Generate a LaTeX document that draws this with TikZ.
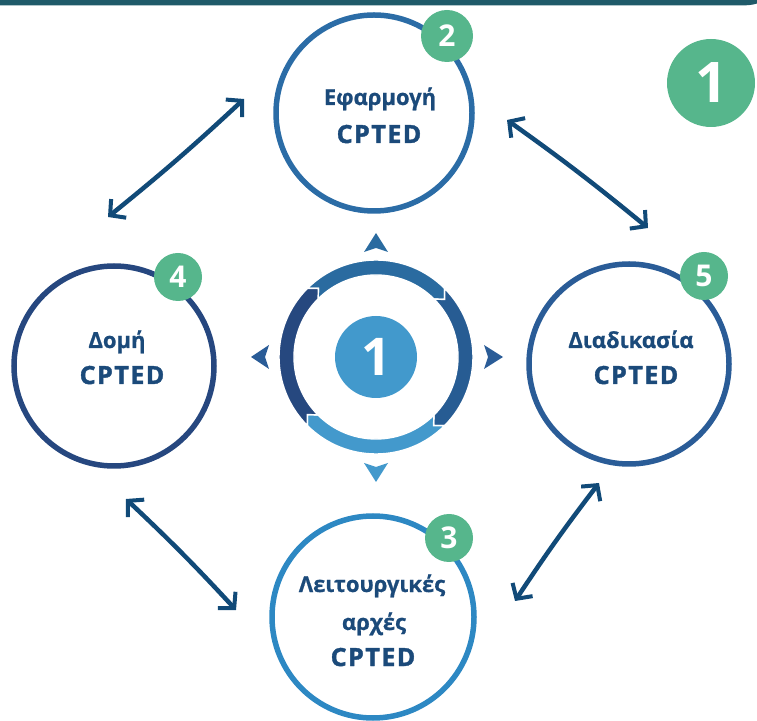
\documentclass[tikz,border=0pt]{standalone}
\usepackage{fontspec}
\setmainfont{Open Sans}
\usetikzlibrary{arrows.meta}
\definecolor{barc}{HTML}{1F5A69}
\definecolor{badgec}{HTML}{56B68C}
\definecolor{topc}{HTML}{2B6CA6}
\definecolor{leftc}{HTML}{26477F}
\definecolor{rightc}{HTML}{2A5C97}
\definecolor{botc}{HTML}{2D88C3}
\definecolor{txtc}{HTML}{1B4A7A}
\definecolor{arrc}{HTML}{114A78}
\definecolor{ringtop}{HTML}{2A6BA0}
\definecolor{ringright}{HTML}{275C93}
\definecolor{ringbot}{HTML}{4399CC}
\definecolor{ringleft}{HTML}{26487F}
\definecolor{diskc}{HTML}{4299CC}
\newcommand\ringseg[3]{%
  \fill[#3, draw=white, line width=1.4pt, shift={(376,363)}]
    (#1:97pt) arc[start angle=#1, end angle=#2, radius=97pt]
    -- (#2-5:89.5pt) -- (#2:82pt)
    arc[start angle=#2, end angle=#1, radius=82pt]
    -- (#1-5:89.5pt) -- cycle;}
\begin{document}
\begin{tikzpicture}[x=1pt,y=1pt,
  bigcirc/.style={circle, draw=#1, line width=5.5pt, inner sep=0pt},
  badge/.style={circle, fill=badgec, text=white, inner sep=0pt,
    font=\bfseries\fontsize{30}{30}\selectfont},
  lbl/.style={text=txtc, anchor=base, inner sep=0pt,
    font=\bfseries\fontsize{22}{22}\selectfont\addfontfeatures{FakeBold=0.8}},
  cpted/.style={text=txtc, anchor=base, inner sep=0pt,
    font=\bfseries\fontsize{25}{25}\selectfont\addfontfeatures{LetterSpace=6,FakeBold=1.6}},
  dblarrow/.style={draw=arrc, line width=4.5pt, line cap=round,
    {Straight Barb[length=11pt,width=24pt,line width=4pt]}-{Straight Barb[length=11pt,width=24pt,line width=4pt]}}
]
\useasboundingbox (0,0) rectangle (757,720);
% top bar
\fill[barc] (0,720) -- (757,720) -- (757,716.5) .. controls (752,714.8) and (746,714.5) .. (738,714.5) -- (0,714.5) -- cycle;

% main circles
\node[bigcirc=topc, minimum size=196pt] (top) at (374,607) {};
\node[bigcirc=leftc, minimum size=200pt] (left) at (114,354) {};
\node[bigcirc=rightc, minimum size=200pt] (right) at (629,356) {};
\node[bigcirc=botc, minimum size=202pt] (bot) at (373,103) {};

% labels
\node[lbl] (t1) at (380,615) {Εφαρμογή};
\node[cpted] (t2) at (379,577) {CPTED};
\node[lbl] (l1) at (117,372) {Δομή};
\node[cpted] (l2) at (122,336) {CPTED};
\node[lbl] (r1) at (631,372) {Διαδικασία};
\node[cpted] (r2) at (636,336) {CPTED};
\node[lbl] (b1) at (372,128) {Λειτουργικές};
\node[lbl] (b2) at (374,90) {αρχές};
\node[cpted] (b3) at (373,54) {CPTED};

% badges
\node[badge, minimum size=52pt] (n2) at (447,684) {2};
\node[badge, minimum size=48pt] (n4) at (178,443) {4};
\node[badge, minimum size=48pt] (n5) at (704,444) {5};
\node[badge, minimum size=48pt] (n3) at (449,182) {3};
\node[badge, minimum size=88pt, font=\bfseries\fontsize{56}{56}\selectfont] (n1) at (711,637) {1};

% centre ring
\ringseg{135}{45}{ringtop}
\ringseg{45}{-45}{ringright}
\ringseg{-45}{-135}{ringbot}
\ringseg{-135}{-225}{ringleft}
\node[circle, fill=diskc, minimum size=82pt, inner sep=0pt, text=white,
  font=\bfseries\fontsize{52}{52}\selectfont] (c) at (376,363) {1};

% small pointers
\fill[ringtop] (376,487) -- (364,468) -- (376,472) -- (388,468) -- cycle;
\fill[ringbot] (376,238) -- (364,257) -- (376,253) -- (388,257) -- cycle;
\fill[rightc] (251,363) -- (269,351) -- (265,363) -- (269,375) -- cycle;
\fill[rightc] (503,363) -- (484,351) -- (488,363) -- (484,375) -- cycle;

% double arrows
\coordinate (a1s) at (108,503);
\coordinate (a1e) at (244,621);
\coordinate (a2s) at (507,600);
\coordinate (a2e) at (648,492);
\coordinate (a3s) at (126,221);
\coordinate (a3e) at (236,110);
\coordinate (a4s) at (599,237);
\coordinate (a4e) at (515,119);
\draw[dblarrow] (a1s) to[bend right=2] (a1e);
\draw[dblarrow] (a2s) to[bend left=2] (a2e);
\draw[dblarrow] (a3s) to[bend left=2] (a3e);
\draw[dblarrow] (a4s) to[bend right=2] (a4e);
\end{tikzpicture}
\end{document}
